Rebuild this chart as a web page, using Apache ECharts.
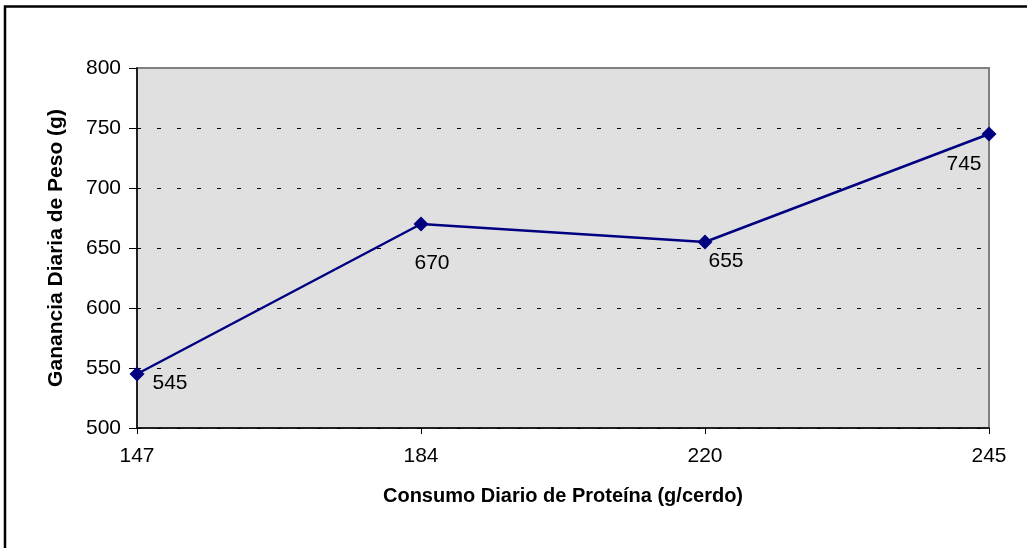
<!DOCTYPE html>
<html>
<head>
<meta charset="utf-8">
<script src="https://cdn.jsdelivr.net/npm/echarts@6/dist/echarts.min.js"></script>
<style>
html,body{margin:0;padding:0;background:#fff;}
#chart{width:1027px;height:548px;}
</style>
</head>
<body>
<div id="chart"></div>
<script>
// datos del grafico
const consumo = ['147', '184', '220', '245']
const ganancia = [545, 670, 655, 745]
// posicion de cada etiqueta respecto al punto
const etiquetaOffset = [[33, 9], [11, 39], [21, 19], [-25, 30]]

const chart = echarts.init(document.getElementById('chart'))
const font = 'Liberation Sans, Arial, sans-serif'

chart.setOption({
    animation: false,
    graphic: [
        {
            type: 'rect',
            shape: {x: 5, y: 6.5, width: 1040, height: 560},
            style: {fill: 'none', stroke: '#000', lineWidth: 2.5},
            z: 0
        }
    ],
    grid: {
        left: 137, top: 68, right: 38, bottom: 120,
        show: true,
        backgroundColor: '#e0e0e0',
        borderColor: '#808080',
        borderWidth: 2
    },
    xAxis: {
        type: 'category',
        data: consumo,
        boundaryGap: false,
        name: 'Consumo Diario de Proteína (g/cerdo)',
        nameLocation: 'middle',
        nameGap: 58,
        nameTextStyle: {fontFamily: font, fontSize: 20, fontWeight: 'bold', color: '#000'},
        axisLine: {lineStyle: {color: '#000', width: 1.5}},
        axisTick: {show: true, length: 6, lineStyle: {color: '#000'}},
        axisLabel: {fontFamily: font, fontSize: 21, color: '#000', margin: 18},
        splitLine: {show: false}
    },
    yAxis: {
        type: 'value',
        min: 500, max: 800, interval: 50,
        name: 'Ganancia Diaria de Peso (g)',
        nameLocation: 'middle',
        nameGap: 70,
        nameTextStyle: {fontFamily: font, fontSize: 21, fontWeight: 'bold', color: '#000'},
        axisLine: {show: true, lineStyle: {color: '#000', width: 1.5}},
        axisTick: {show: true, length: 8, lineStyle: {color: '#000'}},
        axisLabel: {fontFamily: font, fontSize: 21, color: '#000', margin: 16},
        // la linea de 800 la tapa el borde gris
        splitLine: {show: true, lineStyle: {
            color: ['#000', '#000', '#000', '#000', '#000', '#000', 'rgba(0,0,0,0)'],
            type: [4, 16], width: 1
        }}
    },
    series: [{
        type: 'line',
        data: ganancia.map((v, i) => ({
            value: v,
            label: {offset: etiquetaOffset[i]}
        })),
        symbol: 'diamond',
        symbolSize: 15,
        lineStyle: {color: '#000080', width: 2.5},
        itemStyle: {color: '#000080'},
        label: {
            show: true,
            position: 'inside',
            fontFamily: font,
            fontSize: 21,
            color: '#000'
        }
    }]
})
</script>
</body>
</html>
